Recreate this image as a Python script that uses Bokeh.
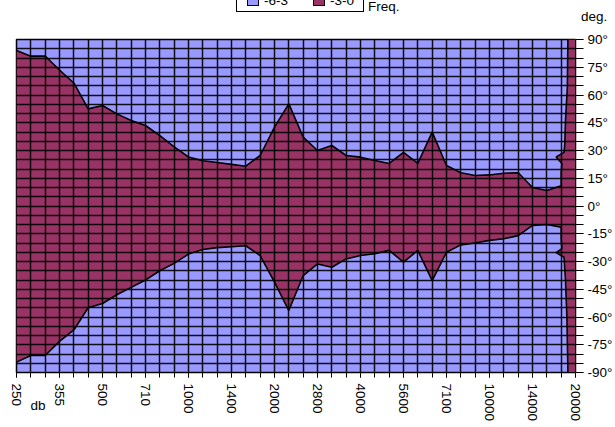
from bokeh.plotting import figure
from bokeh.layouts import column
from bokeh.models import FixedTicker, Range1d, Div, Title
from bokeh.embed import file_html
from bokeh.resources import INLINE

# ---------------- data ----------------
freqs = [250, 280, 315, 355, 400, 450, 500, 560, 630, 710,
         800, 900, 1000, 1120, 1250, 1400, 1600, 1800, 2000, 2240,
         2500, 2800, 3150, 3550, 4000, 4500, 5000, 5600, 6300, 6700,
         7100, 8000, 9000, 10000, 11200, 12500, 14000, 16000, 18000, 20000]
labelled_freqs = [250, 355, 500, 710, 1000, 1400, 2000, 2800, 4000, 5600,
                  7100, 10000, 14000, 20000]

# -3 dB contour (upper = positive angles, lower = negative angles), degrees
upper_deg = [84, 81, 81, 73.5, 66.5, 52.5, 54.3, 49.8, 46.2, 43.5,
             38, 32, 26.5, 24.5, 23.5, 22.5, 21.5, 27.3, 42.6, 55.2,
             37.2, 30, 32.7, 27.3, 26.4, 24.6, 23, 29, 23, 39.9,
             21.9, 18, 16.5, 16.8, 17.7, 18, 10, 8.4, 11, 90]
lower_deg = [-84.4, -80.8, -80.8, -73.2, -67, -55, -52.7, -48, -44, -40,
             -35, -31, -26, -23.5, -22.5, -22, -21.5, -26.8, -41.2, -56.5,
             -37.6, -31.3, -33.1, -28.6, -26.8, -25.8, -24, -30.4, -24, -40.3,
             -25, -21, -20, -18.6, -17.7, -16, -10.5, -10, -11.5, -90]

# contour between the two highest bands (fractional category position)
edge_up_pos = [38.0, 38.05, 37.65, 38.2, 38.25, 38.3, 38.43, 38.47]
edge_up_deg = [18, 23, 26.5, 29, 33, 46, 64, 90]
edge_dn_pos = [38.0, 38.05, 37.65, 38.2, 38.3, 38.4, 38.47]
edge_dn_deg = [-18, -23, -25.2, -27.7, -40, -60, -90]

level_labels = ["-6-3", "-3-0"]
level_colors = ["#9999FF", "#993366"]
angle_ticks = list(range(-90, 91, 15))
angle_steps = list(range(-90, 91, 5))

FONT = "Liberation Sans"
FS = "13.5px"
W = 615
TOP_H = 30

# ---------------- top strip: legend (cut at the page top) + titles ----------------
def abs_box(left, top, w, h, extra=""):
    return (f'<div style="position:absolute;left:{left}px;top:{top}px;width:{w}px;'
            f'height:{h}px;box-sizing:border-box;{extra}"></div>')

def abs_text(left, top, txt):
    return (f'<span style="position:absolute;left:{left}px;top:{top}px;'
            f'line-height:13.5px;white-space:nowrap;">{txt}</span>')

html = (f'<div style="position:relative;width:{W}px;height:{TOP_H}px;overflow:hidden;'
        f'font-family:\'{FONT}\',Arial,sans-serif;font-size:{FS};color:#000;background:#fff;">'
        + abs_box(236, -20, 128, 32, "border:1px solid #000;background:#fff;")
        + abs_box(247, -7, 12, 13, f"border:1px solid #000;background:{level_colors[0]};")
        + abs_text(264, -6, level_labels[0])
        + abs_box(313, -7, 12, 13, f"border:1px solid #000;background:{level_colors[1]};")
        + abs_text(330, -6, level_labels[1])
        + abs_text(368, 0, "Freq.")
        + abs_text(581, 10, "deg.")
        + '</div>')
top = Div(text=html, width=W, height=TOP_H, margin=0)

# ---------------- main chart ----------------
n = len(freqs)
idx = list(range(n - 1))
last = n - 1

p = figure(width=W, height=427 - TOP_H, output_backend="svg", toolbar_location=None,
           x_range=Range1d(0, last), y_range=Range1d(-90, 90),
           y_axis_location="right",
           min_border_left=16, min_border_right=40,
           min_border_top=39 - TOP_H, min_border_bottom=55)
p.background_fill_color = level_colors[0]
p.border_fill_color = "white"
p.outline_line_color = "black"
p.outline_line_width = 1.5

xs = idx + edge_up_pos + [last, last] + edge_dn_pos[::-1] + idx[::-1]
ys = (upper_deg[:last] + edge_up_deg + [upper_deg[last], lower_deg[last]]
      + edge_dn_deg[::-1] + lower_deg[:last][::-1])
p.patch(xs, ys, fill_color=level_colors[1], line_color=None)

p.line(idx + edge_up_pos, upper_deg[:last] + edge_up_deg, line_color="black", line_width=1.6)
p.line(idx + edge_dn_pos, lower_deg[:last] + edge_dn_deg, line_color="black", line_width=1.6)

p.xgrid.ticker = FixedTicker(ticks=list(range(n)))
p.ygrid.ticker = FixedTicker(ticks=angle_steps)
for g in (p.xgrid[0], p.ygrid[0]):
    g.grid_line_color = "black"
    g.grid_line_width = 1.5
    g.grid_line_alpha = 0.9
    g.level = "annotation"

xa = p.xaxis[0]
lab_idx = [freqs.index(f) for f in labelled_freqs]
xa.ticker = FixedTicker(ticks=lab_idx, minor_ticks=list(range(n)))
xa.major_label_overrides = {i: str(freqs[i]) for i in lab_idx}
xa.major_label_orientation = "vertical"
xa.major_label_standoff = 6
xa.major_tick_out = 5
xa.major_tick_in = 0
xa.minor_tick_out = 5
xa.minor_tick_in = 0
xa.major_tick_line_color = "black"
xa.minor_tick_line_color = "black"
xa.axis_line_color = "black"
xa.major_label_text_font = FONT
xa.major_label_text_font_size = FS
xa.major_label_text_color = "black"

# "db" title sitting between the first tick labels
p.add_layout(Title(text="db", align="left", offset=14, vertical_align="top",
                   standoff=-54, text_font=FONT, text_font_size=FS,
                   text_font_style="normal", text_color="black"), "below")

ya = p.yaxis[0]
ya.ticker = FixedTicker(ticks=angle_ticks, minor_ticks=angle_steps)
ya.major_label_overrides = {t: f"{t}°" for t in angle_ticks}
ya.major_tick_out = 8
ya.major_tick_in = 0
ya.minor_tick_out = 8
ya.minor_tick_in = 0
ya.major_tick_line_color = "#808080"
ya.minor_tick_line_color = "black"
ya.axis_line_color = "black"
ya.major_label_standoff = 4
ya.major_label_text_font = FONT
ya.major_label_text_font_size = FS
ya.major_label_text_color = "black"

layout = column(top, p, spacing=0)
open("out.html", "w").write(file_html(layout, INLINE))
